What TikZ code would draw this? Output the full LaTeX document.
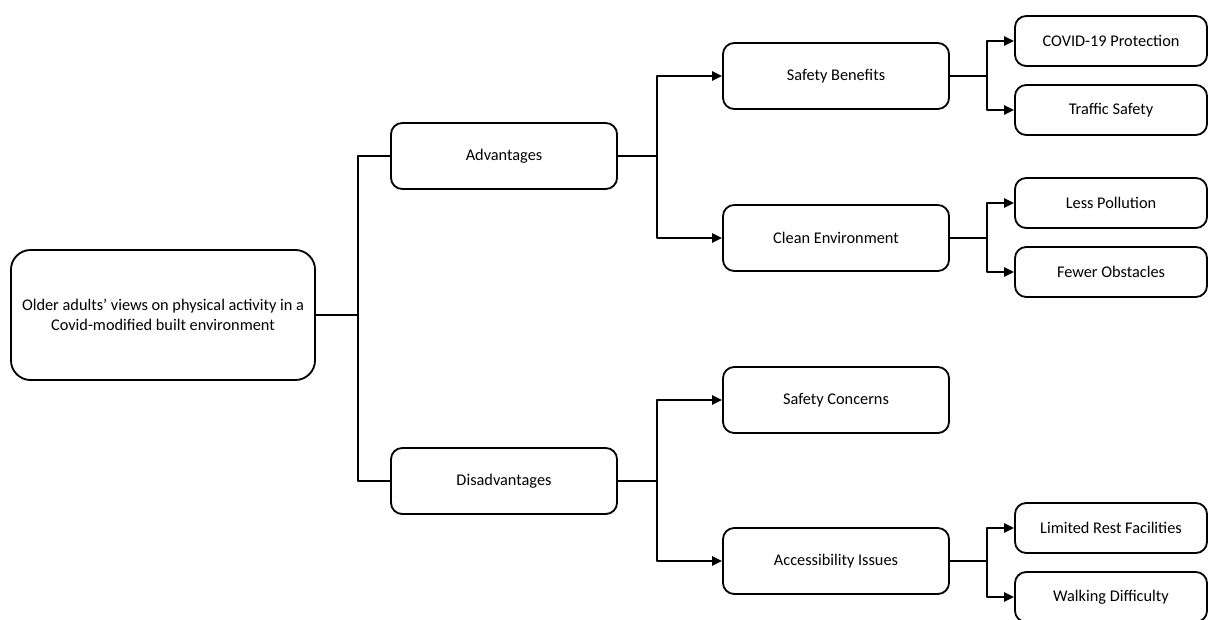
\documentclass[tikz,border=0pt]{standalone}
\usepackage{fontspec}
\setmainfont{Carlito}
\usetikzlibrary{arrows.meta}
\begin{document}
\begin{tikzpicture}[x=0.025cm, y=-0.025cm, font=\fontsize{11.6}{14}\selectfont, line join=round,
	>={Triangle[length=7pt, width=6.5pt]},
	box/.style={draw, line width=1.3pt, rounded corners=8pt, align=center, inner sep=0pt},
	rootbox/.style={box, minimum width=7.6cm, minimum height=3.25cm, rounded corners=14pt},
	midbox/.style={box, minimum width=5.65cm, minimum height=1.65cm},
	leafbox/.style={box, minimum width=4.8cm, minimum height=1.25cm},
	link/.style={line width=1.3pt}]
	\useasboundingbox (0,0) rectangle (1208,619);
	% root and first level
	\node[rootbox] (root) at (163,315) {Older adults’ views on physical activity in a\\Covid-modified built environment};
	\node[midbox] (adv) at (504,156) {Advantages};
	\node[midbox] (dis) at (504,481) {Disadvantages};
	% second level
	\node[midbox] (safe) at (836,76) {Safety Benefits};
	\node[midbox] (clean) at (836,238) {Clean Environment};
	\node[midbox] (conc) at (836,400) {Safety Concerns};
	\node[midbox] (acc) at (836,561) {Accessibility Issues};
	% leaves
	\node[leafbox] (covid) at (1111,41) {COVID-19 Protection};
	\node[leafbox] (traffic) at (1111,110) {Traffic Safety};
	\node[leafbox] (poll) at (1111,203) {Less Pollution};
	\node[leafbox] (obst) at (1111,272) {Fewer Obstacles};
	\node[leafbox] (rest) at (1111,528) {Limited Rest Facilities};
	\node[leafbox] (walk) at (1111,597) {Walking Difficulty};
	% junctions
	\coordinate (jroot) at (358,315);
	\coordinate (jadv) at (657,156);
	\coordinate (jdis) at (657,481);
	\coordinate (jsafe) at (987,76);
	\coordinate (jclean) at (987,238);
	\coordinate (jacc) at (987,561);
	% connectors
	\draw[link] (root) -- (jroot);
	\draw[link] (jroot) |- (adv) (jroot) |- (dis);
	\draw[link] (adv) -- (jadv) (dis) -- (jdis);
	\draw[link,->] (jadv) |- (safe); \draw[link,->] (jadv) |- (clean);
	\draw[link,->] (jdis) |- (conc); \draw[link,->] (jdis) |- (acc);
	\draw[link] (safe) -- (jsafe) (clean) -- (jclean) (acc) -- (jacc);
	\foreach \j/\a/\b in {jsafe/covid/traffic, jclean/poll/obst, jacc/rest/walk}
	{\draw[link,->] (\j) |- (\a); \draw[link,->] (\j) |- (\b);}
\end{tikzpicture}
\end{document}
